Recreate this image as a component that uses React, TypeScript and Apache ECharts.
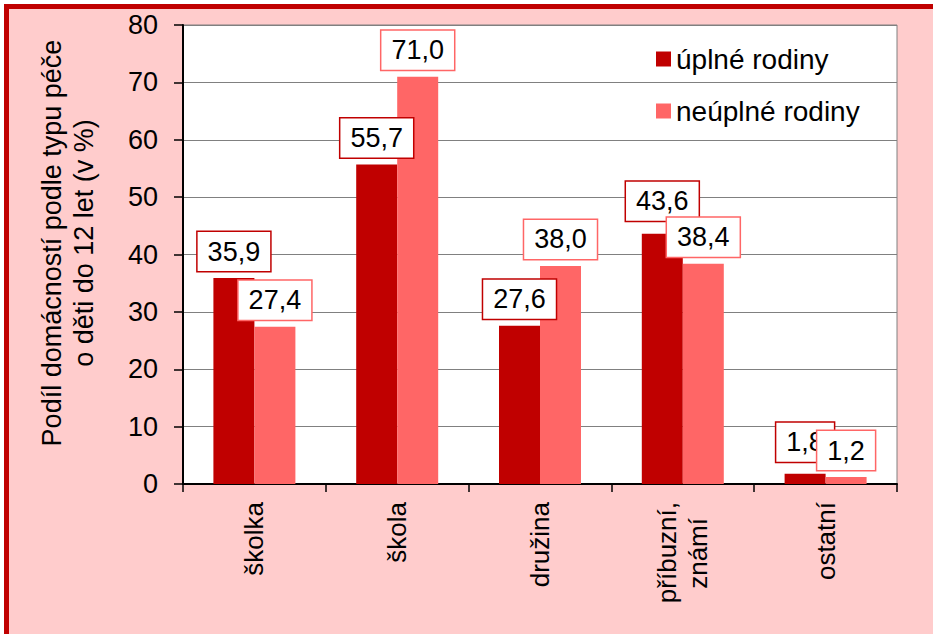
import React, { useEffect, useRef } from "react";
import * as echarts from "echarts";

const categories = ["školka", "škola", "družina", "příbuzní,\nznámí", "ostatní"];
const seriesNames = ["úplné rodiny", "neúplné rodiny"];
const uplneRodiny = [35.9, 55.7, 27.6, 43.6, 1.8];
const neuplneRodiny = [27.4, 71.0, 38.0, 38.4, 1.2];
const yAxisTitle = "Podíl domácností podle typu péče\no děti do 12 let (v %)";

const FONT = "'Liberation Sans', Arial, sans-serif";
const DARK = "#C00000";
const LIGHT = "#FF6666";

const fmt = (p: any) => Number(p.value).toFixed(1).replace(".", ",");
// Excel lifted some dark labels a bit to avoid overlapping the light ones
const darkLabelDistance = [7, 7, 7, 13, 12];

// Two-line category: first line on the main axis, second line (centred under it) on an overlay axis
const isTwoLine = (c: string) => c.indexOf("\n") >= 0;
const firstLineCats = categories.map((c) => (isTwoLine(c) ? c.split("\n")[0] + "\n " : c));
const secondLineCats = categories.map((c) => (isTwoLine(c) ? " \n" + c.split("\n")[1] : c));

export default function App() {
  const ref = useRef<HTMLDivElement>(null);
  useEffect(() => {
    if (!ref.current) return;
    const chart = echarts.init(ref.current, undefined, { renderer: "svg" });
    const labelStyle = (color: string) => ({
      show: true,
      position: "top" as const,
      distance: 7,
      formatter: fmt,
      color: "#000",
      fontFamily: FONT,
      fontSize: 27,
      lineHeight: 27,
      backgroundColor: "#fff",
      borderColor: color,
      borderWidth: 1.5,
      padding: [6, 10, 6, 10],
    });
    const darkData = uplneRodiny.map((v, i) => ({
      value: v,
      label: { ...labelStyle(DARK), distance: darkLabelDistance[i] },
    }));
    const axisLabelBase = {
      rotate: 90,
      fontSize: 26,
      color: "#000",
      fontFamily: FONT,
      lineHeight: 31,
    };
    chart.setOption({
      animation: false,
      backgroundColor: "transparent",
      textStyle: { fontFamily: FONT },
      grid: {
        left: 183,
        top: 25,
        right: 36,
        bottom: 150,
        show: true,
        backgroundColor: "#fff",
        borderColor: "#808080",
        borderWidth: 1,
      },
      legend: {
        orient: "vertical",
        left: 656,
        top: 45,
        padding: 0,
        itemWidth: 15,
        itemHeight: 15,
        itemGap: 24,
        icon: "rect",
        data: seriesNames,
        textStyle: { fontSize: 28, color: "#000", fontFamily: FONT },
      },
      xAxis: [
        {
          type: "category",
          position: "bottom",
          data: firstLineCats,
          axisLine: { show: true, lineStyle: { color: "#000", width: 2 } },
          axisTick: { show: true, length: 8, lineStyle: { color: "#000", width: 1.5 } },
          axisLabel: { ...axisLabelBase, margin: 18, interval: 0 },
        },
        {
          type: "category",
          position: "bottom",
          offset: 0,
          data: secondLineCats,
          axisLine: { show: false },
          axisTick: { show: false },
          splitLine: { show: false },
          axisLabel: {
            ...axisLabelBase,
            margin: 34,
            interval: (index: number) => isTwoLine(categories[index]),
          },
        },
      ],
      yAxis: {
        type: "value",
        min: 0,
        max: 80,
        interval: 10,
        axisLine: { show: true, lineStyle: { color: "#000", width: 2 } },
        axisTick: { show: true, length: 9, lineStyle: { color: "#000", width: 1.5 } },
        axisLabel: { margin: 25, fontSize: 27, color: "#000", fontFamily: FONT },
        splitLine: { show: true, lineStyle: { color: "#808080", width: 1 } },
      },
      graphic: [
        {
          type: "text",
          x: 68,
          y: 243,
          rotation: Math.PI / 2,
          style: {
            text: yAxisTitle,
            fontSize: 27,
            fontFamily: FONT,
            fill: "#000",
            textAlign: "center",
            textVerticalAlign: "middle",
            lineHeight: 32,
          },
        },
      ],
      series: [
        {
          name: seriesNames[0],
          type: "bar",
          data: darkData,
          barWidth: 41,
          barGap: "0%",
          itemStyle: { color: DARK },
          label: labelStyle(DARK),
        },
        {
          name: seriesNames[1],
          type: "bar",
          data: neuplneRodiny,
          barWidth: 41,
          barGap: "0%",
          itemStyle: { color: LIGHT },
          label: labelStyle(LIGHT),
        },
      ],
    });
    return () => chart.dispose();
  }, []);

  return (
    <div
      style={{
        position: "absolute",
        left: 0,
        top: 0,
        width: 933,
        height: 634,
        background: "#fff",
        overflow: "hidden",
      }}
    >
      <div
        style={{
          position: "absolute",
          left: 4,
          top: 4,
          width: 1200,
          height: 1200,
          background: "#FFCCCC",
          borderLeft: `5px solid ${DARK}`,
          borderTop: `5px solid ${DARK}`,
        }}
      />
      <div ref={ref} style={{ position: "absolute", left: 0, top: 0, width: 933, height: 634 }} />
    </div>
  );
}
